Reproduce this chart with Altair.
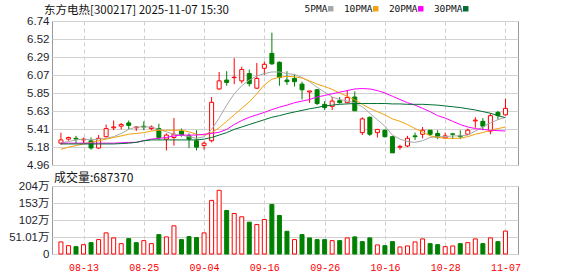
import altair as alt
import pandas as pd

dates = ["08-08","08-11","08-12","08-13","08-14","08-15","08-18","08-19","08-20","08-21",
         "08-22","08-25","08-26","08-27","08-28","08-29","09-01","09-02","09-03","09-04",
         "09-05","09-08","09-09","09-10","09-11","09-12","09-15","09-16","09-17","09-18",
         "09-19","09-22","09-23","09-24","09-25","09-26","09-29","09-30","10-09","10-10",
         "10-13","10-14","10-15","10-16","10-17","10-20","10-21","10-22","10-23","10-24",
         "10-27","10-28","10-29","10-30","10-31","11-03","11-04","11-05","11-06","11-07"]

opens = [5.23, 5.28, 5.29, 5.27, 5.26, 5.17, 5.31, 5.42, 5.44, 5.48,
         5.42, 5.44, 5.41, 5.41, 5.28, 5.30, 5.38, 5.32, 5.26, 5.20,
         5.26, 5.90, 6.01, 6.04, 6.00, 6.09, 5.91, 6.155, 6.34, 6.23,
         6.01, 6.03, 5.96, 5.862, 5.89, 5.71, 5.685, 5.755, 5.73, 5.80,
         5.36, 5.55, 5.36, 5.39, 5.31, 5.18, 5.195, 5.32, 5.34, 5.39,
         5.35, 5.295, 5.345, 5.32, 5.34, 5.505, 5.50, 5.38, 5.61, 5.58]
closes = [5.27, 5.30, 5.28, 5.28, 5.17, 5.29, 5.41, 5.43, 5.46, 5.45,
          5.43, 5.43, 5.43, 5.30, 5.33, 5.34, 5.33, 5.28, 5.18, 5.23,
          5.735, 6.00, 5.98, 6.045, 6.14, 5.965, 6.03, 6.205, 6.21, 6.04,
          5.99, 5.99, 5.89, 5.875, 5.72, 5.67, 5.75, 5.73, 5.795, 5.63,
          5.53, 5.34, 5.40, 5.31, 5.11, 5.19, 5.29, 5.31, 5.39, 5.34,
          5.30, 5.32, 5.34, 5.31, 5.39, 5.515, 5.44, 5.57, 5.57, 5.66]
highs = [5.36, 5.31, 5.32, 5.30, 5.30, 5.33, 5.46, 5.51, 5.48, 5.51,
         5.44, 5.50, 5.45, 5.47, 5.35, 5.54, 5.41, 5.35, 5.39, 5.25,
         5.80, 6.11, 6.12, 6.28, 6.175, 6.14, 6.22, 6.24, 6.595, 6.24,
         6.12, 6.08, 5.99, 5.88, 5.90, 5.75, 5.80, 5.80, 5.88, 5.87,
         5.55, 5.56, 5.40, 5.40, 5.32, 5.21, 5.32, 5.36, 5.43, 5.39,
         5.39, 5.36, 5.35, 5.39, 5.41, 5.55, 5.54, 5.60, 5.63, 5.78]
lows = [5.21, 5.26, 5.23, 5.23, 5.15, 5.16, 5.30, 5.39, 5.40, 5.40,
        5.38, 5.39, 5.39, 5.27, 5.14, 5.20, 5.31, 5.17, 5.14, 5.15,
        5.24, 5.89, 5.94, 5.96, 5.97, 5.93, 5.90, 6.07, 6.20, 5.94,
        5.95, 5.93, 5.77, 5.73, 5.70, 5.64, 5.64, 5.72, 5.73, 5.63,
        5.33, 5.32, 5.30, 5.30, 5.11, 5.15, 5.18, 5.27, 5.29, 5.32,
        5.28, 5.28, 5.28, 5.28, 5.33, 5.42, 5.39, 5.34, 5.52, 5.57]

volumes = [362000, 250000, 220000, 280000, 341000, 432000, 634000, 483000, 311000, 462000,
           341000, 401000, 311000, 582000, 513000, 845000, 432000, 522000, 492000, 634000,
           1609000, 1911000, 1307000, 1216000, 1117000, 954000, 884000, 1035000, 1488000, 1156000,
           682000, 432000, 582000, 483000, 432000, 432000, 401000, 401000, 483000, 513000,
           371000, 483000, 272000, 250000, 371000, 211000, 241000, 362000, 453000, 311000,
           281000, 220000, 241000, 311000, 341000, 453000, 311000, 483000, 371000, 687370]
vol_dir = ["up","up","down","up","down","up","up","up","up","down",
           "down","up","up","down","up","up","down","down","down","up",
           "up","up","down","up","up","down","up","up","down","down",
           "down","up","down","down","down","down","up","down","up","down",
           "down","down","up","down","down","up","up","up","up","down",
           "down","up","up","down","up","up","down","up","down","up"]

ma5 = [5.23, 5.25, 5.27, 5.28, 5.27, 5.28, 5.29, 5.31, 5.35, 5.40,
       5.43, 5.43, 5.43, 5.40, 5.37, 5.34, 5.33, 5.31, 5.29, 5.31,
       5.40, 5.54, 5.70, 5.84, 5.94, 6.01, 6.06, 6.09, 6.11, 6.11,
       6.09, 6.08, 6.04, 5.99, 5.92, 5.86, 5.80, 5.77, 5.75, 5.73,
       5.68, 5.60, 5.52, 5.44, 5.33, 5.28, 5.25, 5.24, 5.26, 5.30,
       5.31, 5.31, 5.32, 5.32, 5.33, 5.38, 5.43, 5.48, 5.52, 5.55]
ma10 = [5.155, 5.18, 5.20, 5.22, 5.24, 5.26, 5.28, 5.30, 5.32, 5.34,
        5.35, 5.36, 5.38, 5.39, 5.39, 5.39, 5.39, 5.37, 5.34, 5.33,
        5.36, 5.42, 5.50, 5.58, 5.66, 5.74, 5.84, 5.95, 6.02, 6.045,
        6.055, 6.05, 6.035, 6.00, 5.96, 5.93, 5.895, 5.85, 5.81, 5.765,
        5.71, 5.66, 5.62, 5.58, 5.53, 5.50, 5.46, 5.41, 5.37, 5.32,
        5.30, 5.29, 5.29, 5.29, 5.31, 5.34, 5.36, 5.39, 5.41, 5.43]
ma20 = [5.23, 5.23, 5.23, 5.23, 5.23, 5.23, 5.23, 5.23, 5.235, 5.24,
        5.24, 5.26, 5.28, 5.29, 5.30, 5.32, 5.33, 5.33, 5.33, 5.34,
        5.35, 5.365, 5.40, 5.46, 5.51, 5.55, 5.58, 5.61, 5.645, 5.675,
        5.70, 5.73, 5.75, 5.77, 5.80, 5.82, 5.84, 5.86, 5.88, 5.90,
        5.905, 5.90, 5.88, 5.85, 5.81, 5.77, 5.73, 5.70, 5.66, 5.62,
        5.57, 5.54, 5.50, 5.46, 5.43, 5.41, 5.40, 5.39, 5.385, 5.38]
ma30 = [5.22, 5.22, 5.22, 5.22, 5.22, 5.22, 5.22, 5.22, 5.225, 5.23,
        5.24, 5.26, 5.27, 5.27, 5.27, 5.27, 5.27, 5.27, 5.27, 5.28,
        5.30, 5.33, 5.36, 5.40, 5.43, 5.46, 5.49, 5.52, 5.55, 5.57,
        5.595, 5.615, 5.635, 5.655, 5.67, 5.69, 5.70, 5.71, 5.715, 5.72,
        5.72, 5.72, 5.72, 5.72, 5.715, 5.715, 5.71, 5.71, 5.71, 5.705,
        5.70, 5.69, 5.68, 5.67, 5.655, 5.64, 5.62, 5.60, 5.57, 5.545]

ma_names = ["5PMA", "10PMA", "20PMA", "30PMA"]
ma_colors = ["#a8a8a8", "#f2a20c", "#ff00ff", "#006e32"]

price_ticks = [4.96, 5.1825, 5.405, 5.6275, 5.85, 6.0725, 6.295, 6.5175, 6.74]
price_labels = ["4.96", "5.18", "5.41", "5.63", "5.85", "6.07", "6.29", "6.52", "6.74"]
vol_ticks = [0, 510100, 1020200, 1530300, 2040400]
vol_labels = ["0", "51.01万", "102万", "153万", "204万"]
date_tick_idx = [3, 11, 19, 27, 35, 43, 51, 59]

title_text = "东方电热[300217] 2025-11-07 15:30"
vol_title = "成交量:687370"

RED = "#ff0000"
GREEN = "#008000"

n = len(dates)
df = pd.DataFrame(dict(i=list(range(n)), date=dates, open=opens, high=highs, low=lows,
                       close=closes, vol=volumes, vdir=vol_dir))
df["dir"] = ["up" if c >= o else "down" for o, c in zip(opens, closes)]

rows = []
for name, vals in zip(ma_names, [ma5, ma10, ma20, ma30]):
    for k, v in enumerate(vals):
        rows.append({"i": k, "ma": name, "value": v})
ma_df = pd.DataFrame(rows)


def js_list(items):
    return "[" + ",".join("'" + str(s) + "'" for s in items) + "]"


p_step = (price_ticks[-1] - price_ticks[0]) / (len(price_ticks) - 1)
price_label_expr = js_list(price_labels) + f"[round((datum.value-{price_ticks[0]})/{p_step})]"
vol_label_expr = js_list(vol_labels) + f"[round(datum.value/{vol_ticks[1]})]"
date_label_expr = js_list(dates) + "[round(datum.value)]"

xscale = alt.Scale(domain=[-0.52, n + 0.0], nice=False, zero=False)
pscale = alt.Scale(domain=[price_ticks[0], price_ticks[-1]], nice=False, zero=False)
vscale = alt.Scale(domain=[0, vol_ticks[-1]], nice=False)
stroke_scale = alt.Scale(domain=["up", "down"], range=[RED, GREEN])
fill_scale = alt.Scale(domain=["up", "down"], range=["#ffffff", GREEN])

grid_x = dict(values=date_tick_idx, grid=True, gridDash=[4, 3], gridColor="#cfcfcf",
              ticks=False, domain=False, title=None)

x_price = alt.X("i:Q", scale=xscale, axis=alt.Axis(labels=False, **grid_x))
x_vol = alt.X("i:Q", scale=xscale,
              axis=alt.Axis(labelExpr=date_label_expr, labelColor=RED, labelFont="Liberation Mono",
                            labelFontSize=10, labelPadding=8, labelFlush=False, **grid_x))

y_axis_common = dict(grid=True, gridColor="#d2d2d2", ticks=False, domain=False, title=None,
                     labelFont="Liberation Sans, Noto Sans CJK SC", labelFontSize=11.5,
                     labelColor="#1e1e2e", labelPadding=3, labelFlush=False, labelOverlap=False)

y_price_axis = alt.Axis(values=price_ticks, labelExpr=price_label_expr, **y_axis_common)

wick = alt.Chart(df).mark_rule(strokeWidth=1).encode(
    x=x_price,
    y=alt.Y("low:Q", scale=pscale, axis=y_price_axis),
    y2="high:Q",
    stroke=alt.Stroke("dir:N", scale=stroke_scale, legend=None),
)
body = alt.Chart(df).mark_bar(size=4, strokeWidth=1).encode(
    x=x_price,
    y=alt.Y("open:Q", scale=pscale, axis=y_price_axis),
    y2="close:Q",
    fill=alt.Fill("dir:N", scale=fill_scale, legend=None),
    stroke=alt.Stroke("dir:N", scale=stroke_scale, legend=None),
)
lines = alt.Chart(ma_df).mark_line(strokeWidth=1).encode(
    x=x_price,
    y=alt.Y("value:Q", scale=pscale, axis=y_price_axis),
    color=alt.Color("ma:N", scale=alt.Scale(domain=ma_names, range=ma_colors),
                    legend=alt.Legend(orient="none", legendX=274, legendY=-17, direction="horizontal",
                                      title=None, symbolType="square", symbolSize=6,
                                      symbolStrokeWidth=3, labelFont="DejaVu Sans Mono",
                                      labelFontSize=9.5, labelColor="#111",
                                      labelOffset={"expr": "-8"},
                                      labelAlign="right", columnPadding=5, padding=0)),
    order="i:Q",
)

price = alt.layer(wick, body, lines).properties(
    width=466, height=144,
    title=alt.TitleParams(title_text, anchor="start", frame="group", dx=-8, offset=-1,
                          font="Noto Sans CJK SC", fontSize=11.5, fontWeight="normal", color="#111"),
)

y_vol_axis = alt.Axis(values=vol_ticks, labelExpr=vol_label_expr, **y_axis_common)
vol = alt.Chart(df).mark_bar(size=4, strokeWidth=1).encode(
    x=x_vol,
    y=alt.Y("vol:Q", scale=vscale, axis=y_vol_axis),
    fill=alt.Fill("vdir:N", scale=fill_scale, legend=None),
    stroke=alt.Stroke("vdir:N", scale=stroke_scale, legend=None),
).properties(
    width=466, height=68,
    title=alt.TitleParams(vol_title, anchor="start", frame="group", dx=2, offset=-5,
                          font="Noto Sans CJK SC", fontSize=12, fontWeight="normal", color="#111"),
)

chart = alt.vconcat(price, vol, spacing=21, bounds="flush").properties(
    padding={"left": 8, "top": 4, "right": 10, "bottom": 2}
).configure_view(stroke="#999999", strokeWidth=1).resolve_scale(x="shared")

chart.save("out.html", embed_options={"renderer": "svg", "actions": False})
